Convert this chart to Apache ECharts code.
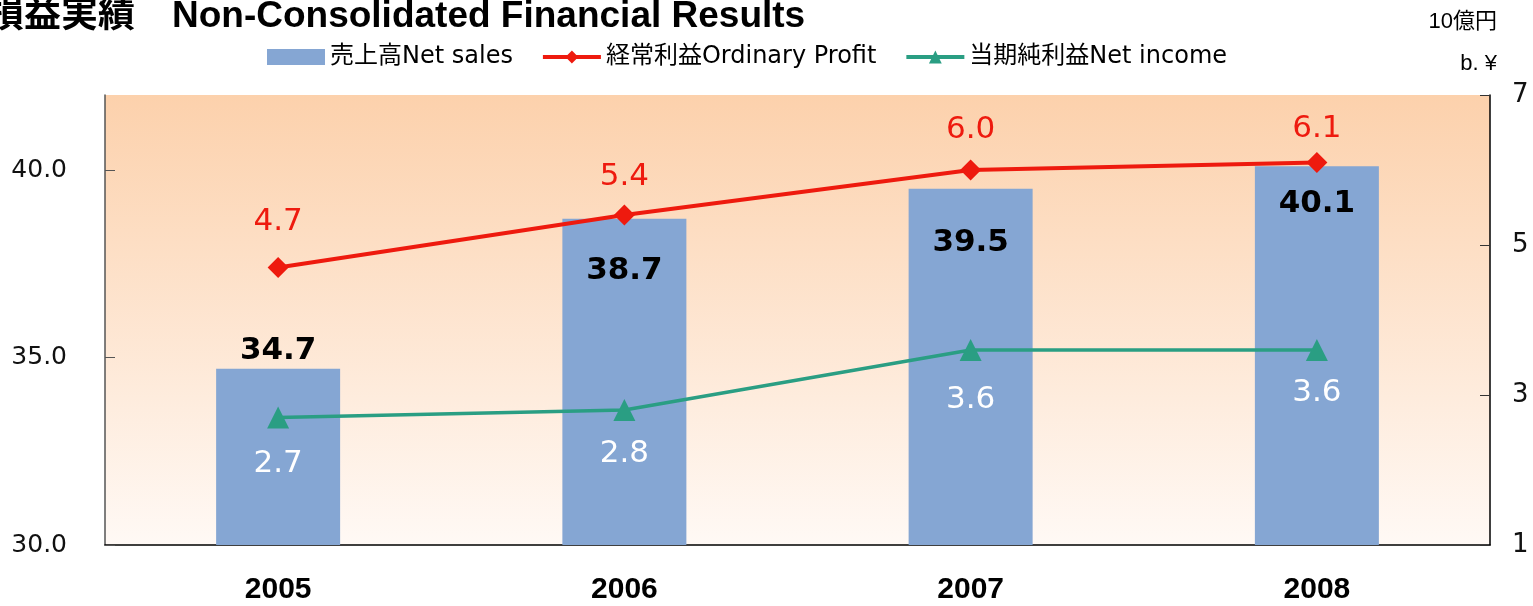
<!DOCTYPE html>
<html>
<head>
<meta charset="utf-8">
<title>損益実績 Non-Consolidated Financial Results</title>
<script src="https://cdn.jsdelivr.net/npm/echarts@6/dist/echarts.min.js"></script>
<style>
html, body { margin: 0; padding: 0; background: #fff; }
#echarts_main { width: 1533px; height: 606px; }
</style>
</head>
<body>
<div id="echarts_main"></div>
<script>
// 年度
var years = ['2005', '2006', '2007', '2008'];
// 売上高 (左軸)
var netSales = [34.7, 38.7, 39.5, 40.1];
// 経常利益 (右軸)
var ordinaryProfit = [4.7, 5.4, 6.0, 6.1];
// 当期純利益 (右軸)
var netIncome = [2.7, 2.8, 3.6, 3.6];
// 目盛
var leftTicks = [30, 35, 40];
var rightTicks = [1, 3, 5, 7];

// ラベルの上下ずらし
var salesShift = [0, 70, 72, 55];
var profitShift = [-15, -7, -9, -3];
var incomeShift = [15, 12, 18, 11];

function fmt(v) { return Number(v).toFixed(1); }

var myChart = echarts.init(document.getElementById('echarts_main'));

var salesData = netSales.map(function(v, i) {
	return { value: v, label: { offset: [0, salesShift[i]] } };
});
var profitData = ordinaryProfit.map(function(v, i) {
	return { value: v, label: { offset: [0, profitShift[i]] } };
});
var incomeData = netIncome.map(function(v, i) {
	return { value: v, label: { offset: [0, incomeShift[i]] } };
});

var option = {
	animation: false,
	title: [
		{
			text: '損益実績　Non-Consolidated Financial Results',
			left: -18,
			top: -7,
			textStyle: { fontFamily: 'Liberation Sans, Noto Sans CJK JP', fontWeight: 'bold', fontSize: 37, color: '#000' }
		},
		{
			text: '10億円',
			right: 31,
			top: 6,
			textStyle: { fontFamily: 'Liberation Sans, Noto Sans CJK JP', fontWeight: 'normal', fontSize: 22, color: '#000' }
		},
		{
			text: 'b. ¥',
			right: 31,
			top: 48,
			textStyle: { fontFamily: 'Liberation Sans, Noto Sans CJK JP', fontWeight: 'normal', fontSize: 22, color: '#000' }
		}
	],
	legend: {
		left: 262,
		top: 40,
		itemWidth: 58,
		itemHeight: 16,
		itemGap: 28,
		textStyle: { fontFamily: 'DejaVu Sans, Noto Sans CJK JP', fontSize: 24, color: '#000' },
		data: [
			{ name: '売上高Net sales', icon: 'rect' },
			{ name: '経常利益Ordinary Profit', lineStyle: { width: 4 } },
			{ name: '当期純利益Net income', lineStyle: { width: 4 } }
		]
	},
	grid: {
		left: 105,
		right: 43,
		top: 95,
		bottom: 61,
		show: true,
		borderWidth: 0,
		backgroundColor: new echarts.graphic.LinearGradient(0, 0, 0, 1, [
			{ offset: 0, color: '#FCD1AC' },
			{ offset: 1, color: '#FFF9F5' }
		])
	},
	xAxis: {
		type: 'category',
		data: years,
		axisLine: { lineStyle: { color: '#000', width: 1.5 } },
		axisTick: { inside: true, length: 10, lineStyle: { color: '#000' } },
		axisLabel: { margin: 30, fontFamily: 'Liberation Sans', fontWeight: 'bold', fontSize: 30, color: '#000' },
		splitLine: { show: false }
	},
	yAxis: [
		{
			type: 'value',
			min: 30,
			max: 42,
			interval: 5,
			axisLine: { show: true, lineStyle: { color: '#555', width: 1.5 } },
			axisTick: { show: true, inside: true, length: 10, customValues: leftTicks, lineStyle: { color: '#555' } },
			axisLabel: { margin: 38, customValues: leftTicks, formatter: fmt, fontFamily: 'DejaVu Sans', fontSize: 25, color: '#111' },
			splitLine: { show: false }
		},
		{
			type: 'value',
			min: 1,
			max: 7,
			interval: 2,
			axisLine: { show: true, lineStyle: { color: '#000', width: 1.5 } },
			axisTick: { show: true, inside: true, length: 10, customValues: rightTicks, lineStyle: { color: '#333' } },
			axisLabel: { margin: 22, customValues: rightTicks, fontFamily: 'DejaVu Sans', fontSize: 26, color: '#111' },
			splitLine: { show: false }
		}
	],
	series: [
		{
			name: '売上高Net sales',
			type: 'bar',
			barWidth: 124,
			yAxisIndex: 0,
			itemStyle: { color: '#85A6D3' },
			label: {
				show: true,
				position: 'top',
				distance: 2,
				formatter: function(p) { return fmt(p.value); },
				fontFamily: 'DejaVu Sans',
				fontWeight: 'bold',
				fontSize: 31,
				color: '#000'
			},
			data: salesData,
			z: 2
		},
		{
			name: '経常利益Ordinary Profit',
			type: 'line',
			yAxisIndex: 1,
			symbol: 'diamond',
			symbolSize: 21,
			lineStyle: { color: '#EE1A0E', width: 4 },
			itemStyle: { color: '#EE1A0E' },
			label: {
				show: true,
				position: 'top',
				distance: 5,
				formatter: function(p) { return fmt(p.value); },
				fontFamily: 'DejaVu Sans',
				fontSize: 31,
				color: '#EE1A0E'
			},
			data: profitData,
			z: 3
		},
		{
			name: '当期純利益Net income',
			type: 'line',
			yAxisIndex: 1,
			symbol: 'triangle',
			symbolSize: 22,
			lineStyle: { color: '#2A9E83', width: 3.5 },
			itemStyle: { color: '#2A9E83' },
			label: {
				show: true,
				position: 'bottom',
				distance: 5,
				formatter: function(p) { return fmt(p.value); },
				fontFamily: 'DejaVu Sans',
				fontSize: 31,
				color: '#fff'
			},
			data: incomeData,
			z: 3
		}
	]
};

myChart.setOption(option);
</script>
</body>
</html>
